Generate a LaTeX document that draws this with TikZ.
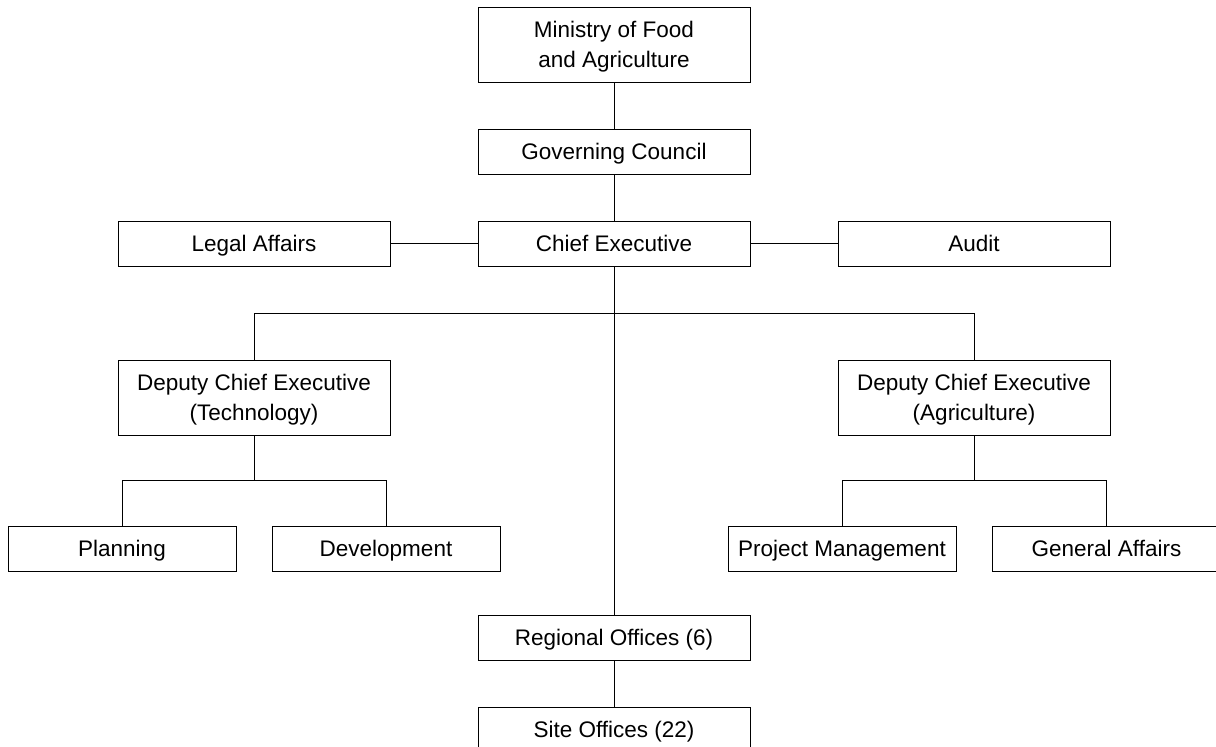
\documentclass[tikz,border=0pt]{standalone}
\usepackage{fontspec}
\setmainfont{Liberation Sans}
\usepackage{tikz}
\usetikzlibrary{positioning}
\tikzset{
  unit/.style={
    rectangle, draw=black, fill=white, line width=0.5pt,
    minimum width=136pt, minimum height=22.5pt, inner sep=2pt,
    text height=10.2pt, text depth=2pt,
    font=\fontsize{11.25}{15}\selectfont, align=center
  },
  unitT/.style={
    unit, minimum height=37.5pt, text height=25pt, text depth=2.5pt
  },
  dept/.style={
    unit, minimum width=114pt
  },
  link/.style={line width=0.5pt, draw=black}
}

\begin{document}
\begin{tikzpicture}[x=0.5pt, y=-0.5pt, node distance=23pt and 43.5pt]
    \useasboundingbox (0,0) rectangle (1216,746);
    \clip (0,0) rectangle (1216,746);

    %% ---- Top of the chain ------------------------------------------
    \node[unitT] (ministry) at (614,44.5) {Ministry of Food\\and Agriculture};
    \node[unit, below=of ministry] (council) {Governing Council};
    \node[unit, below=of council]  (chief)   {Chief Executive};
    \node[unit, left=of chief]     (legal)   {Legal Affairs};
    \node[unit, right=of chief]    (audit)   {Audit};

    %% ---- Deputies ----------------------------------------------------
    \node[unitT, below=46.5pt of legal] (dtech) {Deputy Chief Executive\\(Technology)};
    \node[unitT, below=46.5pt of audit] (dagri) {Deputy Chief Executive\\(Agriculture)};

    %% ---- Departments -------------------------------------------------
    \node[dept, below=45pt of dtech, xshift=-66pt]   (plan) {Planning};
    \node[dept, below=45pt of dtech, xshift=66pt]    (dev)  {Development};
    \node[dept, below=45pt of dagri, xshift=-66pt]   (pm)   {Project Management};
    \node[dept, below=45pt of dagri, xshift=66.25pt] (ga)   {General Affairs};

    %% ---- Field offices -----------------------------------------------
    \node[unit, below=174pt of chief]  (regional) {Regional Offices (6)};
    \node[unit, below=23pt of regional] (site)    {Site Offices (22)};

    %% ---- Connectors --------------------------------------------------
    \draw[link] (ministry) -- (council);
    \draw[link] (council) -- (chief);
    \draw[link] (legal) -- (chief);
    \draw[link] (chief) -- (audit);
    \draw[link] (chief) -- (regional);
    \draw[link] (regional) -- (site);

    \draw[link] (dtech.north) -- ++(0pt,23.25pt) -| (dagri.north);

    \draw[link] (plan.north) -- ++(0pt,22.5pt) coordinate (tfork) -| (dev.north);
    \draw[link] (dtech) -- (dtech.south |- tfork);
    \draw[link] (pm.north) -- ++(0pt,22.5pt) coordinate (afork) -| (ga.north);
    \draw[link] (dagri) -- (dagri.south |- afork);

  \end{tikzpicture}
\end{document}
